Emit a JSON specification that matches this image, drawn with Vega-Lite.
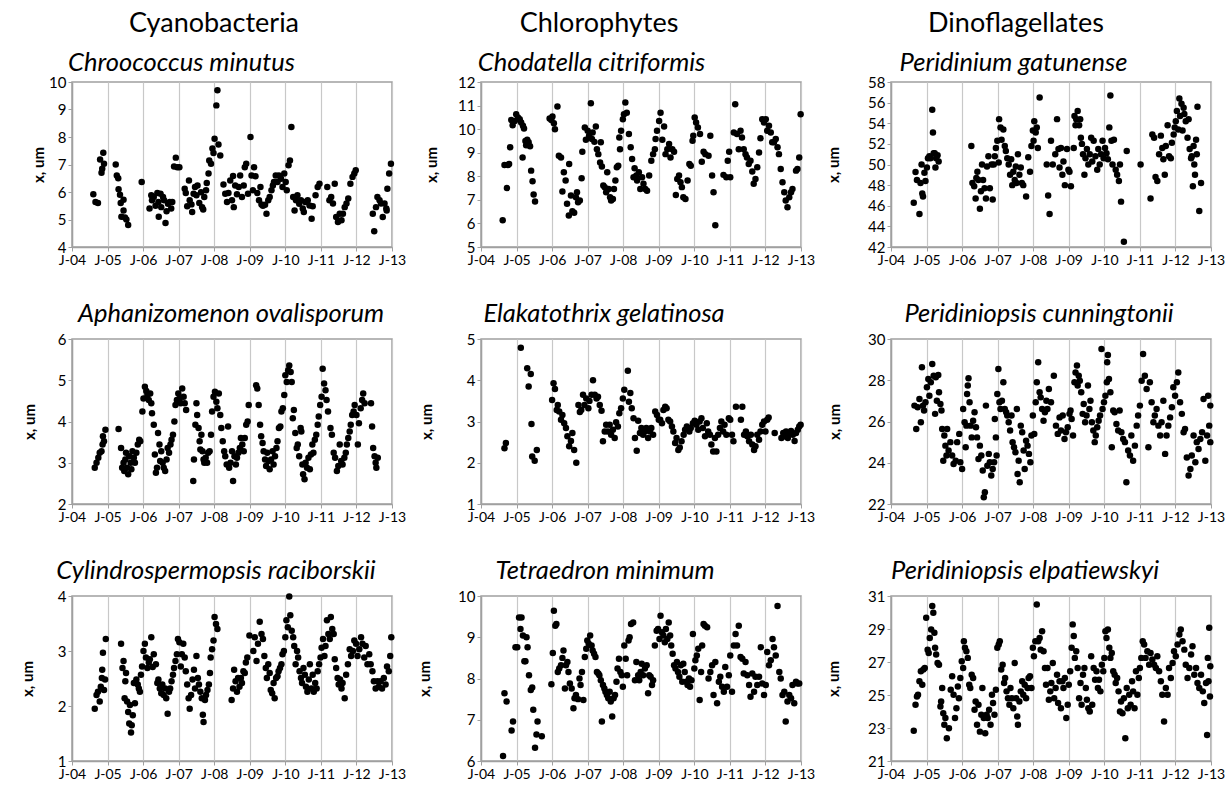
{
  "$schema": "https://vega.github.io/schema/vega-lite/v6.json",
  "background": "white",
  "padding": {"left": 19, "top": 9, "right": 0, "bottom": 0},
  "datasets": {
    "cm": [{"t":2004.60,"v":5.92},{"t":2004.66,"v":5.64},{"t":2004.73,"v":5.6},{"t":2004.79,"v":7.18},{"t":2004.83,"v":6.7},{"t":2004.85,"v":6.85},{"t":2004.90,"v":7.03},{"t":2004.88,"v":7.43},{"t":2005.23,"v":7.0},{"t":2005.26,"v":6.6},{"t":2005.30,"v":6.5},{"t":2005.31,"v":6.1},{"t":2005.35,"v":5.9},{"t":2005.37,"v":5.6},{"t":2005.45,"v":5.72},{"t":2005.45,"v":5.33},{"t":2005.39,"v":5.1},{"t":2005.49,"v":5.07},{"t":2005.53,"v":5.0},{"t":2005.58,"v":4.8},{"t":2005.96,"v":6.36},{"t":2006.18,"v":5.4},{"t":2006.23,"v":5.88},{"t":2006.25,"v":5.7},{"t":2006.30,"v":5.82},{"t":2006.35,"v":5.5},{"t":2006.40,"v":5.96},{"t":2006.43,"v":5.64},{"t":2006.44,"v":5.1},{"t":2006.49,"v":5.94},{"t":2006.51,"v":5.45},{"t":2006.56,"v":5.82},{"t":2006.59,"v":5.7},{"t":2006.63,"v":4.87},{"t":2006.66,"v":5.3},{"t":2006.70,"v":5.57},{"t":2006.75,"v":5.64},{"t":2006.79,"v":5.4},{"t":2006.82,"v":5.64},{"t":2006.87,"v":6.93},{"t":2006.92,"v":7.25},{"t":2006.96,"v":6.9},{"t":2007.02,"v":6.9},{"t":2007.17,"v":6.12},{"t":2007.20,"v":5.96},{"t":2007.24,"v":5.48},{"t":2007.29,"v":6.42},{"t":2007.31,"v":5.7},{"t":2007.36,"v":5.55},{"t":2007.38,"v":5.27},{"t":2007.42,"v":5.94},{"t":2007.46,"v":6.18},{"t":2007.50,"v":5.88},{"t":2007.53,"v":6.24},{"t":2007.58,"v":5.6},{"t":2007.63,"v":5.99},{"t":2007.66,"v":5.45},{"t":2007.69,"v":5.36},{"t":2007.72,"v":5.82},{"t":2007.77,"v":6.06},{"t":2007.79,"v":6.33},{"t":2007.84,"v":6.67},{"t":2007.86,"v":7.15},{"t":2007.91,"v":7.03},{"t":2007.95,"v":7.58},{"t":2007.98,"v":7.42},{"t":2008.01,"v":7.94},{"t":2008.06,"v":9.15},{"t":2008.09,"v":9.7},{"t":2008.12,"v":7.73},{"t":2008.17,"v":7.33},{"t":2008.26,"v":6.27},{"t":2008.31,"v":5.94},{"t":2008.36,"v":5.64},{"t":2008.40,"v":5.96},{"t":2008.45,"v":6.42},{"t":2008.50,"v":5.7},{"t":2008.53,"v":6.58},{"t":2008.55,"v":5.45},{"t":2008.59,"v":6.24},{"t":2008.64,"v":5.92},{"t":2008.69,"v":6.18},{"t":2008.73,"v":6.6},{"t":2008.78,"v":5.82},{"t":2008.83,"v":6.24},{"t":2008.86,"v":6.9},{"t":2008.90,"v":7.03},{"t":2008.95,"v":5.94},{"t":2009.02,"v":8.0},{"t":2009.05,"v":6.6},{"t":2009.09,"v":6.06},{"t":2009.12,"v":6.9},{"t":2009.16,"v":6.57},{"t":2009.21,"v":5.96},{"t":2009.26,"v":5.7},{"t":2009.30,"v":6.18},{"t":2009.33,"v":5.55},{"t":2009.37,"v":5.5},{"t":2009.43,"v":5.54},{"t":2009.47,"v":5.21},{"t":2009.52,"v":5.7},{"t":2009.56,"v":5.82},{"t":2009.61,"v":6.06},{"t":2009.65,"v":6.24},{"t":2009.68,"v":6.36},{"t":2009.73,"v":6.6},{"t":2009.78,"v":6.36},{"t":2009.82,"v":6.6},{"t":2009.88,"v":6.48},{"t":2009.92,"v":6.18},{"t":2009.97,"v":6.67},{"t":2010.01,"v":6.36},{"t":2010.04,"v":6.06},{"t":2010.09,"v":6.97},{"t":2010.13,"v":7.15},{"t":2010.17,"v":8.36},{"t":2010.22,"v":5.82},{"t":2010.26,"v":5.33},{"t":2010.30,"v":5.7},{"t":2010.34,"v":5.88},{"t":2010.39,"v":5.57},{"t":2010.44,"v":5.7},{"t":2010.49,"v":5.4},{"t":2010.52,"v":5.27},{"t":2010.56,"v":5.64},{"t":2010.63,"v":5.7},{"t":2010.68,"v":5.51},{"t":2010.74,"v":5.03},{"t":2010.77,"v":5.48},{"t":2010.85,"v":5.88},{"t":2010.91,"v":6.18},{"t":2010.96,"v":6.3},{"t":2011.18,"v":6.18},{"t":2011.24,"v":5.7},{"t":2011.29,"v":5.82},{"t":2011.34,"v":5.58},{"t":2011.39,"v":6.3},{"t":2011.43,"v":5.09},{"t":2011.48,"v":4.91},{"t":2011.53,"v":5.21},{"t":2011.58,"v":4.97},{"t":2011.62,"v":5.21},{"t":2011.67,"v":5.45},{"t":2011.72,"v":5.58},{"t":2011.77,"v":5.76},{"t":2011.83,"v":6.3},{"t":2011.89,"v":6.55},{"t":2011.94,"v":6.67},{"t":2011.98,"v":6.79},{"t":2012.46,"v":5.21},{"t":2012.50,"v":4.57},{"t":2012.55,"v":5.45},{"t":2012.59,"v":5.82},{"t":2012.65,"v":5.7},{"t":2012.69,"v":5.58},{"t":2012.74,"v":5.09},{"t":2012.79,"v":5.58},{"t":2012.84,"v":5.4},{"t":2012.85,"v":5.33},{"t":2012.87,"v":6.12},{"t":2012.92,"v":6.67},{"t":2012.97,"v":7.03}],
    "cc": [{"t":2004.61,"v":6.13},{"t":2004.66,"v":8.48},{"t":2004.73,"v":7.5},{"t":2004.76,"v":8.48},{"t":2004.79,"v":8.52},{"t":2004.82,"v":9.23},{"t":2004.85,"v":10.39},{"t":2004.89,"v":10.17},{"t":2004.95,"v":10.35},{"t":2004.99,"v":10.63},{"t":2005.04,"v":10.49},{"t":2005.09,"v":10.42},{"t":2005.13,"v":10.28},{"t":2005.17,"v":8.8},{"t":2005.18,"v":10.14},{"t":2005.21,"v":10.03},{"t":2005.25,"v":9.5},{"t":2005.27,"v":9.32},{"t":2005.30,"v":9.55},{"t":2005.34,"v":9.44},{"t":2005.38,"v":9.27},{"t":2005.41,"v":8.24},{"t":2005.45,"v":7.79},{"t":2005.48,"v":7.23},{"t":2005.52,"v":6.93},{"t":2005.93,"v":10.45},{"t":2005.98,"v":10.39},{"t":2006.01,"v":10.54},{"t":2006.05,"v":10.25},{"t":2006.08,"v":10.0},{"t":2006.15,"v":10.96},{"t":2006.19,"v":8.87},{"t":2006.25,"v":8.8},{"t":2006.29,"v":7.35},{"t":2006.33,"v":8.17},{"t":2006.38,"v":7.82},{"t":2006.42,"v":6.83},{"t":2006.47,"v":6.34},{"t":2006.48,"v":8.52},{"t":2006.53,"v":7.18},{"t":2006.57,"v":6.52},{"t":2006.62,"v":6.45},{"t":2006.67,"v":7.11},{"t":2006.70,"v":7.32},{"t":2006.73,"v":6.9},{"t":2006.78,"v":6.97},{"t":2006.83,"v":7.92},{"t":2006.85,"v":9.04},{"t":2006.92,"v":10.07},{"t":2006.95,"v":9.55},{"t":2007.00,"v":9.93},{"t":2007.04,"v":9.72},{"t":2007.09,"v":11.1},{"t":2007.12,"v":9.58},{"t":2007.14,"v":9.86},{"t":2007.19,"v":9.46},{"t":2007.23,"v":10.11},{"t":2007.26,"v":9.15},{"t":2007.30,"v":8.94},{"t":2007.35,"v":8.59},{"t":2007.37,"v":9.44},{"t":2007.40,"v":8.42},{"t":2007.44,"v":7.61},{"t":2007.48,"v":7.54},{"t":2007.52,"v":7.32},{"t":2007.55,"v":8.17},{"t":2007.59,"v":7.46},{"t":2007.63,"v":7.11},{"t":2007.66,"v":6.97},{"t":2007.71,"v":7.04},{"t":2007.74,"v":7.46},{"t":2007.78,"v":7.82},{"t":2007.82,"v":8.38},{"t":2007.86,"v":8.45},{"t":2007.89,"v":9.65},{"t":2007.91,"v":9.15},{"t":2007.94,"v":9.93},{"t":2007.99,"v":10.42},{"t":2008.02,"v":10.63},{"t":2008.06,"v":11.13},{"t":2008.10,"v":10.7},{"t":2008.16,"v":9.79},{"t":2008.21,"v":9.23},{"t":2008.25,"v":8.73},{"t":2008.29,"v":7.96},{"t":2008.32,"v":8.34},{"t":2008.37,"v":8.03},{"t":2008.39,"v":7.82},{"t":2008.44,"v":8.17},{"t":2008.48,"v":7.46},{"t":2008.53,"v":7.96},{"t":2008.57,"v":7.68},{"t":2008.62,"v":7.46},{"t":2008.67,"v":7.39},{"t":2008.73,"v":8.03},{"t":2008.79,"v":8.66},{"t":2008.84,"v":8.94},{"t":2008.89,"v":9.15},{"t":2008.91,"v":9.58},{"t":2008.95,"v":9.93},{"t":2009.01,"v":10.35},{"t":2009.05,"v":10.7},{"t":2009.10,"v":9.55},{"t":2009.15,"v":10.11},{"t":2009.19,"v":8.94},{"t":2009.24,"v":9.15},{"t":2009.29,"v":9.37},{"t":2009.33,"v":8.8},{"t":2009.38,"v":9.15},{"t":2009.43,"v":9.04},{"t":2009.48,"v":7.21},{"t":2009.52,"v":7.89},{"t":2009.57,"v":8.03},{"t":2009.61,"v":7.75},{"t":2009.65,"v":7.54},{"t":2009.69,"v":7.11},{"t":2009.75,"v":7.04},{"t":2009.81,"v":7.82},{"t":2009.86,"v":8.52},{"t":2009.90,"v":8.45},{"t":2009.95,"v":9.51},{"t":2009.97,"v":9.72},{"t":2010.01,"v":10.49},{"t":2010.05,"v":10.28},{"t":2010.10,"v":10.07},{"t":2010.16,"v":9.79},{"t":2010.21,"v":8.62},{"t":2010.26,"v":9.04},{"t":2010.31,"v":8.94},{"t":2010.40,"v":8.87},{"t":2010.45,"v":9.72},{"t":2010.50,"v":8.03},{"t":2010.54,"v":7.32},{"t":2010.59,"v":5.92},{"t":2010.82,"v":8.06},{"t":2010.90,"v":7.96},{"t":2010.94,"v":8.66},{"t":2010.98,"v":9.04},{"t":2011.01,"v":7.96},{"t":2011.11,"v":9.86},{"t":2011.15,"v":11.06},{"t":2011.20,"v":9.79},{"t":2011.25,"v":9.15},{"t":2011.30,"v":9.93},{"t":2011.34,"v":9.65},{"t":2011.39,"v":9.15},{"t":2011.44,"v":8.94},{"t":2011.48,"v":8.8},{"t":2011.53,"v":8.52},{"t":2011.58,"v":8.66},{"t":2011.63,"v":8.2},{"t":2011.67,"v":7.68},{"t":2011.72,"v":7.89},{"t":2011.77,"v":8.38},{"t":2011.82,"v":9.01},{"t":2011.86,"v":9.61},{"t":2011.91,"v":10.42},{"t":2011.96,"v":10.28},{"t":2012.01,"v":10.42},{"t":2012.05,"v":9.93},{"t":2012.10,"v":10.14},{"t":2012.15,"v":9.86},{"t":2012.19,"v":9.44},{"t":2012.24,"v":9.44},{"t":2012.29,"v":9.58},{"t":2012.34,"v":9.23},{"t":2012.38,"v":8.94},{"t":2012.43,"v":8.31},{"t":2012.48,"v":7.75},{"t":2012.53,"v":7.32},{"t":2012.57,"v":6.97},{"t":2012.62,"v":6.69},{"t":2012.67,"v":7.11},{"t":2012.72,"v":7.32},{"t":2012.76,"v":7.46},{"t":2012.86,"v":8.24},{"t":2012.90,"v":8.31},{"t":2012.95,"v":8.8},{"t":2012.99,"v":10.63}],
    "pg": [{"t":2004.64,"v":46.3},{"t":2004.69,"v":49.27},{"t":2004.73,"v":48.5},{"t":2004.80,"v":45.2},{"t":2004.83,"v":48.2},{"t":2004.86,"v":50.0},{"t":2004.88,"v":47.2},{"t":2004.90,"v":46.9},{"t":2004.94,"v":49.2},{"t":2004.97,"v":48.4},{"t":2005.01,"v":49.7},{"t":2005.04,"v":50.6},{"t":2005.08,"v":50.8},{"t":2005.11,"v":50.6},{"t":2005.16,"v":55.3},{"t":2005.18,"v":53.1},{"t":2005.20,"v":51.1},{"t":2005.23,"v":51.1},{"t":2005.25,"v":49.7},{"t":2005.27,"v":50.6},{"t":2005.31,"v":50.9},{"t":2005.34,"v":50.3},{"t":2006.26,"v":51.8},{"t":2006.29,"v":48.2},{"t":2006.34,"v":47.9},{"t":2006.38,"v":46.7},{"t":2006.40,"v":48.7},{"t":2006.43,"v":49.3},{"t":2006.46,"v":48.5},{"t":2006.50,"v":45.7},{"t":2006.53,"v":47.4},{"t":2006.56,"v":50.0},{"t":2006.59,"v":48.5},{"t":2006.63,"v":47.7},{"t":2006.67,"v":46.7},{"t":2006.70,"v":49.8},{"t":2006.74,"v":50.8},{"t":2006.78,"v":47.7},{"t":2006.83,"v":50.0},{"t":2006.86,"v":46.6},{"t":2006.89,"v":50.0},{"t":2006.92,"v":50.8},{"t":2006.95,"v":51.6},{"t":2006.99,"v":52.3},{"t":2007.03,"v":50.2},{"t":2007.04,"v":54.4},{"t":2007.08,"v":53.6},{"t":2007.11,"v":52.4},{"t":2007.16,"v":53.4},{"t":2007.20,"v":51.8},{"t":2007.23,"v":51.3},{"t":2007.27,"v":50.6},{"t":2007.31,"v":50.0},{"t":2007.35,"v":49.0},{"t":2007.38,"v":50.5},{"t":2007.41,"v":48.0},{"t":2007.44,"v":49.3},{"t":2007.48,"v":48.5},{"t":2007.51,"v":49.8},{"t":2007.53,"v":48.2},{"t":2007.57,"v":51.0},{"t":2007.61,"v":49.0},{"t":2007.65,"v":49.7},{"t":2007.68,"v":48.2},{"t":2007.72,"v":48.0},{"t":2007.80,"v":46.9},{"t":2007.86,"v":50.7},{"t":2007.91,"v":49.3},{"t":2007.95,"v":51.8},{"t":2007.99,"v":53.3},{"t":2008.01,"v":52.3},{"t":2008.03,"v":54.2},{"t":2008.07,"v":53.1},{"t":2008.10,"v":53.6},{"t":2008.13,"v":51.6},{"t":2008.18,"v":56.5},{"t":2008.38,"v":50.0},{"t":2008.42,"v":47.0},{"t":2008.46,"v":45.2},{"t":2008.50,"v":52.3},{"t":2008.55,"v":50.0},{"t":2008.62,"v":51.0},{"t":2008.67,"v":54.4},{"t":2008.71,"v":51.5},{"t":2008.74,"v":49.7},{"t":2008.78,"v":51.6},{"t":2008.82,"v":49.0},{"t":2008.85,"v":50.3},{"t":2008.89,"v":48.0},{"t":2008.95,"v":51.5},{"t":2008.99,"v":49.5},{"t":2009.02,"v":49.3},{"t":2009.06,"v":47.9},{"t":2009.14,"v":51.6},{"t":2009.16,"v":54.7},{"t":2009.19,"v":53.8},{"t":2009.21,"v":54.4},{"t":2009.25,"v":55.2},{"t":2009.29,"v":53.8},{"t":2009.32,"v":54.4},{"t":2009.34,"v":52.6},{"t":2009.37,"v":52.0},{"t":2009.40,"v":51.0},{"t":2009.44,"v":49.0},{"t":2009.47,"v":50.6},{"t":2009.51,"v":51.5},{"t":2009.55,"v":50.0},{"t":2009.59,"v":51.0},{"t":2009.63,"v":52.6},{"t":2009.66,"v":50.3},{"t":2009.70,"v":52.3},{"t":2009.75,"v":50.8},{"t":2009.80,"v":49.5},{"t":2009.83,"v":51.5},{"t":2009.87,"v":50.0},{"t":2009.91,"v":51.0},{"t":2009.95,"v":52.3},{"t":2009.98,"v":50.6},{"t":2010.02,"v":51.6},{"t":2010.06,"v":51.1},{"t":2010.10,"v":50.5},{"t":2010.14,"v":53.6},{"t":2010.17,"v":56.7},{"t":2010.20,"v":52.3},{"t":2010.23,"v":50.0},{"t":2010.27,"v":52.4},{"t":2010.32,"v":49.5},{"t":2010.36,"v":49.0},{"t":2010.41,"v":48.4},{"t":2010.44,"v":50.0},{"t":2010.47,"v":46.4},{"t":2010.55,"v":42.5},{"t":2010.63,"v":51.3},{"t":2011.02,"v":50.0},{"t":2011.30,"v":46.7},{"t":2011.35,"v":52.9},{"t":2011.40,"v":52.6},{"t":2011.44,"v":48.8},{"t":2011.49,"v":48.4},{"t":2011.54,"v":51.0},{"t":2011.59,"v":52.8},{"t":2011.63,"v":51.6},{"t":2011.66,"v":50.5},{"t":2011.70,"v":49.0},{"t":2011.73,"v":51.8},{"t":2011.78,"v":53.8},{"t":2011.82,"v":50.8},{"t":2011.87,"v":50.6},{"t":2011.90,"v":52.1},{"t":2011.95,"v":52.9},{"t":2011.98,"v":53.6},{"t":2012.01,"v":54.2},{"t":2012.04,"v":55.2},{"t":2012.08,"v":53.4},{"t":2012.11,"v":56.4},{"t":2012.13,"v":54.7},{"t":2012.17,"v":55.9},{"t":2012.20,"v":53.3},{"t":2012.23,"v":55.5},{"t":2012.25,"v":54.9},{"t":2012.29,"v":54.2},{"t":2012.34,"v":52.6},{"t":2012.37,"v":54.4},{"t":2012.40,"v":51.5},{"t":2012.44,"v":50.6},{"t":2012.46,"v":50.8},{"t":2012.49,"v":47.9},{"t":2012.51,"v":51.8},{"t":2012.53,"v":50.0},{"t":2012.55,"v":49.0},{"t":2012.58,"v":52.4},{"t":2012.60,"v":51.0},{"t":2012.62,"v":55.6},{"t":2012.67,"v":45.5},{"t":2012.72,"v":48.2}],
    "ao": [{"t":2004.64,"v":2.88},{"t":2004.69,"v":3.0},{"t":2004.74,"v":3.12},{"t":2004.78,"v":3.24},{"t":2004.83,"v":3.28},{"t":2004.86,"v":3.44},{"t":2004.87,"v":3.64},{"t":2004.90,"v":3.52},{"t":2004.94,"v":3.8},{"t":2005.31,"v":3.82},{"t":2005.38,"v":3.36},{"t":2005.41,"v":2.88},{"t":2005.45,"v":3.0},{"t":2005.47,"v":2.8},{"t":2005.50,"v":3.08},{"t":2005.52,"v":3.24},{"t":2005.55,"v":2.88},{"t":2005.58,"v":2.72},{"t":2005.61,"v":3.16},{"t":2005.65,"v":3.0},{"t":2005.67,"v":2.84},{"t":2005.70,"v":3.28},{"t":2005.74,"v":3.12},{"t":2005.77,"v":3.0},{"t":2005.81,"v":3.24},{"t":2005.85,"v":3.44},{"t":2005.89,"v":3.56},{"t":2005.92,"v":3.52},{"t":2005.98,"v":4.24},{"t":2006.01,"v":4.56},{"t":2006.05,"v":4.84},{"t":2006.09,"v":4.74},{"t":2006.12,"v":4.64},{"t":2006.16,"v":4.52},{"t":2006.20,"v":4.68},{"t":2006.23,"v":4.44},{"t":2006.25,"v":4.2},{"t":2006.30,"v":3.92},{"t":2006.33,"v":3.2},{"t":2006.36,"v":2.76},{"t":2006.39,"v":2.88},{"t":2006.42,"v":3.72},{"t":2006.46,"v":3.44},{"t":2006.48,"v":3.04},{"t":2006.51,"v":3.28},{"t":2006.55,"v":3.0},{"t":2006.58,"v":2.88},{"t":2006.62,"v":2.8},{"t":2006.66,"v":3.08},{"t":2006.69,"v":3.36},{"t":2006.73,"v":3.24},{"t":2006.77,"v":3.44},{"t":2006.80,"v":3.56},{"t":2006.84,"v":3.68},{"t":2006.88,"v":4.0},{"t":2006.91,"v":4.4},{"t":2006.95,"v":4.52},{"t":2006.99,"v":4.68},{"t":2007.03,"v":4.56},{"t":2007.06,"v":4.44},{"t":2007.10,"v":4.8},{"t":2007.14,"v":4.6},{"t":2007.17,"v":4.44},{"t":2007.21,"v":4.28},{"t":2007.41,"v":2.56},{"t":2007.43,"v":3.08},{"t":2007.47,"v":3.92},{"t":2007.50,"v":4.44},{"t":2007.52,"v":4.16},{"t":2007.56,"v":3.84},{"t":2007.59,"v":3.52},{"t":2007.61,"v":3.32},{"t":2007.64,"v":3.68},{"t":2007.67,"v":3.28},{"t":2007.70,"v":3.08},{"t":2007.72,"v":3.0},{"t":2007.76,"v":3.12},{"t":2007.80,"v":3.0},{"t":2007.83,"v":3.24},{"t":2007.87,"v":3.28},{"t":2007.91,"v":3.68},{"t":2007.94,"v":4.24},{"t":2007.98,"v":4.6},{"t":2008.02,"v":4.72},{"t":2008.06,"v":4.48},{"t":2008.09,"v":4.32},{"t":2008.13,"v":4.68},{"t":2008.17,"v":4.16},{"t":2008.20,"v":3.84},{"t":2008.24,"v":3.52},{"t":2008.28,"v":3.28},{"t":2008.31,"v":3.16},{"t":2008.35,"v":2.96},{"t":2008.39,"v":3.88},{"t":2008.42,"v":2.88},{"t":2008.46,"v":3.0},{"t":2008.50,"v":3.28},{"t":2008.53,"v":2.56},{"t":2008.57,"v":3.16},{"t":2008.61,"v":2.96},{"t":2008.64,"v":3.12},{"t":2008.68,"v":3.24},{"t":2008.72,"v":3.36},{"t":2008.75,"v":3.6},{"t":2008.79,"v":3.44},{"t":2008.83,"v":3.28},{"t":2008.86,"v":3.6},{"t":2008.90,"v":3.92},{"t":2008.94,"v":4.0},{"t":2008.97,"v":4.4},{"t":2009.18,"v":4.88},{"t":2009.21,"v":4.8},{"t":2009.25,"v":4.4},{"t":2009.29,"v":3.92},{"t":2009.32,"v":3.64},{"t":2009.36,"v":3.48},{"t":2009.39,"v":3.28},{"t":2009.43,"v":3.08},{"t":2009.46,"v":2.92},{"t":2009.49,"v":3.24},{"t":2009.53,"v":3.04},{"t":2009.56,"v":2.84},{"t":2009.60,"v":3.08},{"t":2009.64,"v":3.28},{"t":2009.67,"v":2.96},{"t":2009.71,"v":3.16},{"t":2009.75,"v":3.36},{"t":2009.78,"v":3.52},{"t":2009.82,"v":3.84},{"t":2009.86,"v":3.88},{"t":2009.89,"v":4.24},{"t":2009.93,"v":4.32},{"t":2009.97,"v":4.64},{"t":2010.00,"v":5.12},{"t":2010.04,"v":4.96},{"t":2010.08,"v":5.24},{"t":2010.11,"v":5.36},{"t":2010.15,"v":5.2},{"t":2010.18,"v":4.96},{"t":2010.21,"v":4.08},{"t":2010.24,"v":4.28},{"t":2010.28,"v":3.72},{"t":2010.32,"v":3.36},{"t":2010.35,"v":3.44},{"t":2010.39,"v":3.16},{"t":2010.43,"v":3.84},{"t":2010.45,"v":3.76},{"t":2010.48,"v":2.96},{"t":2010.50,"v":2.72},{"t":2010.54,"v":2.6},{"t":2010.57,"v":3.0},{"t":2010.61,"v":2.88},{"t":2010.65,"v":3.12},{"t":2010.69,"v":2.84},{"t":2010.72,"v":3.2},{"t":2010.76,"v":3.44},{"t":2010.79,"v":3.24},{"t":2010.83,"v":3.56},{"t":2010.87,"v":3.68},{"t":2010.91,"v":3.92},{"t":2010.94,"v":4.12},{"t":2010.98,"v":4.4},{"t":2011.02,"v":4.6},{"t":2011.05,"v":5.28},{"t":2011.09,"v":4.92},{"t":2011.13,"v":4.76},{"t":2011.16,"v":4.52},{"t":2011.20,"v":4.24},{"t":2011.27,"v":3.84},{"t":2011.31,"v":3.68},{"t":2011.36,"v":3.24},{"t":2011.40,"v":3.12},{"t":2011.45,"v":2.8},{"t":2011.49,"v":2.92},{"t":2011.53,"v":3.44},{"t":2011.57,"v":3.04},{"t":2011.61,"v":2.96},{"t":2011.66,"v":3.12},{"t":2011.70,"v":3.24},{"t":2011.73,"v":3.44},{"t":2011.77,"v":3.6},{"t":2011.81,"v":3.76},{"t":2011.84,"v":3.92},{"t":2011.88,"v":4.16},{"t":2011.92,"v":4.24},{"t":2011.95,"v":4.4},{"t":2012.00,"v":4.16},{"t":2012.04,"v":3.44},{"t":2012.07,"v":3.96},{"t":2012.12,"v":4.32},{"t":2012.16,"v":4.52},{"t":2012.19,"v":4.68},{"t":2012.23,"v":4.44},{"t":2012.41,"v":4.44},{"t":2012.44,"v":3.88},{"t":2012.47,"v":3.36},{"t":2012.51,"v":3.16},{"t":2012.54,"v":3.0},{"t":2012.56,"v":2.88},{"t":2012.60,"v":3.12}],
    "eg": [{"t":2004.66,"v":2.35},{"t":2004.70,"v":2.48},{"t":2005.12,"v":4.79},{"t":2005.30,"v":4.29},{"t":2005.34,"v":3.85},{"t":2005.40,"v":4.15},{"t":2005.42,"v":2.94},{"t":2005.44,"v":2.15},{"t":2005.51,"v":2.05},{"t":2005.57,"v":2.31},{"t":2006.00,"v":3.52},{"t":2006.04,"v":3.93},{"t":2006.08,"v":3.79},{"t":2006.13,"v":3.28},{"t":2006.16,"v":3.4},{"t":2006.20,"v":3.24},{"t":2006.25,"v":3.04},{"t":2006.29,"v":3.16},{"t":2006.34,"v":2.96},{"t":2006.39,"v":2.84},{"t":2006.43,"v":2.64},{"t":2006.48,"v":2.4},{"t":2006.53,"v":2.53},{"t":2006.57,"v":2.72},{"t":2006.62,"v":2.31},{"t":2006.68,"v":2.0},{"t":2006.74,"v":3.4},{"t":2006.78,"v":3.23},{"t":2006.82,"v":3.28},{"t":2006.87,"v":3.65},{"t":2006.91,"v":3.4},{"t":2006.96,"v":3.56},{"t":2007.02,"v":3.32},{"t":2007.05,"v":3.5},{"t":2007.11,"v":3.65},{"t":2007.15,"v":4.0},{"t":2007.20,"v":3.65},{"t":2007.25,"v":3.56},{"t":2007.29,"v":3.6},{"t":2007.34,"v":3.4},{"t":2007.39,"v":3.26},{"t":2007.43,"v":2.52},{"t":2007.48,"v":2.76},{"t":2007.52,"v":2.92},{"t":2007.57,"v":2.76},{"t":2007.62,"v":2.92},{"t":2007.66,"v":2.68},{"t":2007.71,"v":2.8},{"t":2007.76,"v":2.6},{"t":2007.80,"v":2.98},{"t":2007.85,"v":2.88},{"t":2007.89,"v":3.2},{"t":2007.94,"v":3.32},{"t":2007.99,"v":3.56},{"t":2008.03,"v":3.77},{"t":2008.13,"v":4.23},{"t":2008.16,"v":3.48},{"t":2008.20,"v":3.69},{"t":2008.24,"v":3.32},{"t":2008.29,"v":3.08},{"t":2008.33,"v":2.6},{"t":2008.38,"v":2.29},{"t":2008.42,"v":3.02},{"t":2008.47,"v":2.72},{"t":2008.51,"v":2.84},{"t":2008.56,"v":2.68},{"t":2008.61,"v":2.76},{"t":2008.65,"v":2.84},{"t":2008.70,"v":2.6},{"t":2008.75,"v":2.76},{"t":2008.79,"v":2.84},{"t":2008.84,"v":2.68},{"t":2008.90,"v":3.24},{"t":2008.95,"v":3.16},{"t":2009.00,"v":3.04},{"t":2009.04,"v":3.04},{"t":2009.09,"v":2.96},{"t":2009.13,"v":3.28},{"t":2009.18,"v":3.36},{"t":2009.22,"v":3.32},{"t":2009.27,"v":3.04},{"t":2009.32,"v":3.0},{"t":2009.37,"v":2.88},{"t":2009.41,"v":2.76},{"t":2009.46,"v":2.48},{"t":2009.50,"v":2.6},{"t":2009.55,"v":2.31},{"t":2009.59,"v":2.37},{"t":2009.64,"v":2.52},{"t":2009.70,"v":2.68},{"t":2009.74,"v":2.8},{"t":2009.79,"v":2.88},{"t":2009.86,"v":2.76},{"t":2009.90,"v":2.84},{"t":2009.96,"v":2.96},{"t":2010.01,"v":3.02},{"t":2010.06,"v":2.92},{"t":2010.11,"v":2.8},{"t":2010.15,"v":3.0},{"t":2010.20,"v":3.08},{"t":2010.24,"v":2.84},{"t":2010.30,"v":2.64},{"t":2010.35,"v":2.96},{"t":2010.39,"v":2.76},{"t":2010.44,"v":2.68},{"t":2010.48,"v":2.44},{"t":2010.53,"v":2.27},{"t":2010.58,"v":2.6},{"t":2010.62,"v":2.27},{"t":2010.67,"v":2.68},{"t":2010.72,"v":2.84},{"t":2010.76,"v":3.0},{"t":2010.81,"v":2.76},{"t":2010.85,"v":2.92},{"t":2010.90,"v":2.68},{"t":2010.97,"v":3.08},{"t":2011.01,"v":3.04},{"t":2011.06,"v":2.68},{"t":2011.10,"v":2.52},{"t":2011.17,"v":3.36},{"t":2011.31,"v":3.04},{"t":2011.35,"v":3.36},{"t":2011.40,"v":2.68},{"t":2011.45,"v":2.76},{"t":2011.49,"v":2.64},{"t":2011.54,"v":2.52},{"t":2011.59,"v":2.68},{"t":2011.63,"v":2.44},{"t":2011.68,"v":2.31},{"t":2011.72,"v":2.4},{"t":2011.77,"v":2.68},{"t":2011.82,"v":2.56},{"t":2011.86,"v":2.76},{"t":2011.91,"v":2.92},{"t":2011.96,"v":3.0},{"t":2012.00,"v":2.76},{"t":2012.05,"v":3.04},{"t":2012.09,"v":3.1},{"t":2012.26,"v":2.72},{"t":2012.45,"v":2.6},{"t":2012.50,"v":2.72},{"t":2012.54,"v":2.64},{"t":2012.58,"v":2.76},{"t":2012.63,"v":2.6},{"t":2012.68,"v":2.72},{"t":2012.72,"v":2.77},{"t":2012.77,"v":2.68},{"t":2012.82,"v":2.53},{"t":2012.86,"v":2.72},{"t":2012.91,"v":2.8},{"t":2012.95,"v":2.88},{"t":2012.99,"v":2.92}],
    "pc": [{"t":2004.66,"v":26.77},{"t":2004.71,"v":25.64},{"t":2004.75,"v":26.69},{"t":2004.80,"v":27.09},{"t":2004.84,"v":25.96},{"t":2004.87,"v":28.63},{"t":2004.90,"v":26.77},{"t":2004.93,"v":26.53},{"t":2004.97,"v":26.93},{"t":2005.01,"v":27.66},{"t":2005.05,"v":28.06},{"t":2005.08,"v":27.25},{"t":2005.12,"v":27.9},{"t":2005.16,"v":28.79},{"t":2005.20,"v":28.22},{"t":2005.24,"v":26.37},{"t":2005.26,"v":28.14},{"t":2005.29,"v":27.01},{"t":2005.33,"v":28.26},{"t":2005.35,"v":27.42},{"t":2005.39,"v":26.85},{"t":2005.42,"v":26.53},{"t":2005.44,"v":25.64},{"t":2005.47,"v":24.1},{"t":2005.50,"v":25.32},{"t":2005.53,"v":24.83},{"t":2005.56,"v":24.35},{"t":2005.58,"v":25.64},{"t":2005.62,"v":24.59},{"t":2005.67,"v":25.0},{"t":2005.72,"v":24.35},{"t":2005.76,"v":23.94},{"t":2005.82,"v":24.1},{"t":2005.86,"v":25.0},{"t":2005.92,"v":25.4},{"t":2005.95,"v":24.02},{"t":2006.00,"v":23.7},{"t":2006.03,"v":26.61},{"t":2006.07,"v":25.96},{"t":2006.10,"v":24.75},{"t":2006.12,"v":25.8},{"t":2006.14,"v":27.33},{"t":2006.16,"v":27.74},{"t":2006.18,"v":28.1},{"t":2006.21,"v":26.93},{"t":2006.24,"v":25.8},{"t":2006.27,"v":25.23},{"t":2006.31,"v":26.04},{"t":2006.35,"v":26.45},{"t":2006.39,"v":25.72},{"t":2006.42,"v":25.23},{"t":2006.46,"v":24.18},{"t":2006.50,"v":24.83},{"t":2006.54,"v":24.35},{"t":2006.58,"v":23.62},{"t":2006.61,"v":22.33},{"t":2006.64,"v":22.57},{"t":2006.67,"v":26.77},{"t":2006.71,"v":23.86},{"t":2006.75,"v":24.43},{"t":2006.78,"v":24.02},{"t":2006.82,"v":23.38},{"t":2006.86,"v":23.7},{"t":2006.90,"v":24.02},{"t":2006.92,"v":26.12},{"t":2006.95,"v":25.23},{"t":2006.97,"v":24.35},{"t":2006.99,"v":27.33},{"t":2007.02,"v":28.55},{"t":2007.05,"v":26.93},{"t":2007.08,"v":26.61},{"t":2007.12,"v":27.01},{"t":2007.16,"v":27.9},{"t":2007.20,"v":26.61},{"t":2007.24,"v":26.45},{"t":2007.27,"v":26.29},{"t":2007.31,"v":25.96},{"t":2007.35,"v":25.56},{"t":2007.39,"v":26.29},{"t":2007.42,"v":25.0},{"t":2007.46,"v":24.75},{"t":2007.50,"v":24.51},{"t":2007.54,"v":26.61},{"t":2007.56,"v":23.46},{"t":2007.59,"v":24.1},{"t":2007.62,"v":23.05},{"t":2007.65,"v":25.8},{"t":2007.69,"v":25.48},{"t":2007.73,"v":24.59},{"t":2007.76,"v":23.7},{"t":2007.80,"v":25.07},{"t":2007.84,"v":24.83},{"t":2007.88,"v":24.43},{"t":2007.92,"v":24.02},{"t":2007.95,"v":25.32},{"t":2007.99,"v":26.29},{"t":2008.03,"v":25.4},{"t":2008.07,"v":26.93},{"t":2008.10,"v":27.9},{"t":2008.14,"v":28.87},{"t":2008.18,"v":27.42},{"t":2008.21,"v":27.17},{"t":2008.25,"v":26.61},{"t":2008.29,"v":26.04},{"t":2008.33,"v":26.45},{"t":2008.37,"v":27.01},{"t":2008.40,"v":26.61},{"t":2008.44,"v":27.58},{"t":2008.50,"v":26.93},{"t":2008.58,"v":28.22},{"t":2008.64,"v":25.8},{"t":2008.69,"v":25.4},{"t":2008.74,"v":26.2},{"t":2008.78,"v":25.56},{"t":2008.83,"v":26.29},{"t":2008.88,"v":25.15},{"t":2008.92,"v":25.48},{"t":2008.97,"v":25.72},{"t":2009.02,"v":26.37},{"t":2009.05,"v":26.53},{"t":2009.08,"v":26.12},{"t":2009.12,"v":25.32},{"t":2009.16,"v":27.9},{"t":2009.19,"v":28.38},{"t":2009.23,"v":28.71},{"t":2009.25,"v":27.74},{"t":2009.28,"v":28.22},{"t":2009.31,"v":27.98},{"t":2009.35,"v":27.42},{"t":2009.39,"v":26.37},{"t":2009.42,"v":26.85},{"t":2009.46,"v":25.96},{"t":2009.50,"v":26.29},{"t":2009.54,"v":27.74},{"t":2009.58,"v":26.61},{"t":2009.61,"v":27.01},{"t":2009.65,"v":25.96},{"t":2009.69,"v":25.56},{"t":2009.73,"v":25.0},{"t":2009.76,"v":25.32},{"t":2009.80,"v":25.72},{"t":2009.84,"v":26.04},{"t":2009.88,"v":26.29},{"t":2009.92,"v":29.52},{"t":2009.95,"v":26.61},{"t":2009.99,"v":26.93},{"t":2010.03,"v":27.25},{"t":2010.07,"v":27.9},{"t":2010.08,"v":28.87},{"t":2010.10,"v":29.22},{"t":2010.13,"v":28.06},{"t":2010.17,"v":27.42},{"t":2010.21,"v":24.75},{"t":2010.25,"v":26.53},{"t":2010.29,"v":26.45},{"t":2010.34,"v":25.88},{"t":2010.39,"v":25.56},{"t":2010.43,"v":26.53},{"t":2010.48,"v":25.48},{"t":2010.53,"v":25.15},{"t":2010.58,"v":25.0},{"t":2010.62,"v":23.05},{"t":2010.67,"v":24.59},{"t":2010.72,"v":24.35},{"t":2010.76,"v":25.32},{"t":2010.81,"v":24.1},{"t":2010.86,"v":24.83},{"t":2010.91,"v":25.8},{"t":2010.95,"v":26.29},{"t":2011.00,"v":26.77},{"t":2011.05,"v":27.98},{"t":2011.09,"v":29.27},{"t":2011.14,"v":28.22},{"t":2011.19,"v":27.58},{"t":2011.24,"v":24.75},{"t":2011.28,"v":27.9},{"t":2011.33,"v":26.93},{"t":2011.38,"v":25.96},{"t":2011.42,"v":26.29},{"t":2011.47,"v":26.61},{"t":2011.52,"v":25.8},{"t":2011.57,"v":25.32},{"t":2011.61,"v":25.96},{"t":2011.66,"v":27.01},{"t":2011.71,"v":24.43},{"t":2011.75,"v":25.32},{"t":2011.80,"v":25.8},{"t":2011.85,"v":26.2},{"t":2011.90,"v":26.69},{"t":2011.94,"v":27.66},{"t":2011.99,"v":27.25},{"t":2012.04,"v":27.9},{"t":2012.08,"v":28.38},{"t":2012.13,"v":26.93},{"t":2012.18,"v":26.37},{"t":2012.23,"v":25.48},{"t":2012.27,"v":25.64},{"t":2012.32,"v":24.26},{"t":2012.37,"v":23.38},{"t":2012.42,"v":23.7},{"t":2012.46,"v":24.35},{"t":2012.51,"v":25.32},{"t":2012.56,"v":24.02},{"t":2012.60,"v":25.0},{"t":2012.65,"v":24.67},{"t":2012.70,"v":25.15},{"t":2012.75,"v":25.48},{"t":2012.79,"v":27.09},{"t":2012.84,"v":24.1},{"t":2012.89,"v":25.32},{"t":2012.92,"v":27.25},{"t":2012.95,"v":25.8},{"t":2012.98,"v":26.77},{"t":2012.98,"v":25.0}],
    "cr": [{"t":2004.64,"v":1.95},{"t":2004.69,"v":2.2},{"t":2004.73,"v":2.26},{"t":2004.78,"v":2.08},{"t":2004.81,"v":2.35},{"t":2004.84,"v":2.51},{"t":2004.85,"v":2.66},{"t":2004.87,"v":2.97},{"t":2004.90,"v":2.29},{"t":2004.93,"v":2.48},{"t":2004.95,"v":3.22},{"t":2005.38,"v":3.13},{"t":2005.42,"v":2.69},{"t":2005.45,"v":2.82},{"t":2005.48,"v":2.14},{"t":2005.50,"v":2.45},{"t":2005.52,"v":2.6},{"t":2005.55,"v":2.08},{"t":2005.58,"v":1.89},{"t":2005.61,"v":1.68},{"t":2005.63,"v":2.02},{"t":2005.66,"v":1.52},{"t":2005.68,"v":1.65},{"t":2005.71,"v":1.83},{"t":2005.74,"v":2.42},{"t":2005.77,"v":2.05},{"t":2005.81,"v":2.48},{"t":2005.85,"v":2.39},{"t":2005.88,"v":2.32},{"t":2005.91,"v":2.26},{"t":2005.94,"v":2.57},{"t":2005.97,"v":2.72},{"t":2006.01,"v":3.0},{"t":2006.05,"v":3.13},{"t":2006.08,"v":2.88},{"t":2006.12,"v":2.69},{"t":2006.16,"v":2.79},{"t":2006.19,"v":2.85},{"t":2006.23,"v":3.25},{"t":2006.27,"v":2.71},{"t":2006.30,"v":2.94},{"t":2006.36,"v":2.76},{"t":2006.40,"v":2.42},{"t":2006.43,"v":2.48},{"t":2006.47,"v":2.32},{"t":2006.51,"v":2.23},{"t":2006.54,"v":2.39},{"t":2006.58,"v":2.2},{"t":2006.62,"v":2.32},{"t":2006.65,"v":2.14},{"t":2006.69,"v":1.86},{"t":2006.73,"v":2.26},{"t":2006.76,"v":2.32},{"t":2006.80,"v":2.45},{"t":2006.84,"v":2.57},{"t":2006.87,"v":2.69},{"t":2006.91,"v":2.82},{"t":2006.95,"v":2.94},{"t":2006.98,"v":3.22},{"t":2007.02,"v":3.16},{"t":2007.06,"v":2.72},{"t":2007.09,"v":2.94},{"t":2007.13,"v":3.13},{"t":2007.17,"v":2.88},{"t":2007.20,"v":2.63},{"t":2007.24,"v":2.39},{"t":2007.28,"v":2.14},{"t":2007.31,"v":1.95},{"t":2007.35,"v":2.2},{"t":2007.39,"v":2.48},{"t":2007.43,"v":2.66},{"t":2007.46,"v":2.32},{"t":2007.50,"v":2.91},{"t":2007.54,"v":2.51},{"t":2007.57,"v":2.39},{"t":2007.61,"v":2.26},{"t":2007.65,"v":2.14},{"t":2007.68,"v":1.84},{"t":2007.70,"v":1.71},{"t":2007.74,"v":2.11},{"t":2007.77,"v":2.2},{"t":2007.81,"v":2.29},{"t":2007.85,"v":2.39},{"t":2007.88,"v":2.6},{"t":2007.90,"v":2.88},{"t":2007.94,"v":3.03},{"t":2007.98,"v":3.19},{"t":2008.01,"v":3.62},{"t":2008.05,"v":3.49},{"t":2008.09,"v":3.4},{"t":2008.49,"v":2.11},{"t":2008.53,"v":2.32},{"t":2008.56,"v":2.66},{"t":2008.60,"v":2.45},{"t":2008.64,"v":2.26},{"t":2008.67,"v":2.51},{"t":2008.71,"v":2.35},{"t":2008.75,"v":2.51},{"t":2008.78,"v":2.42},{"t":2008.82,"v":2.63},{"t":2008.86,"v":2.6},{"t":2008.89,"v":2.79},{"t":2008.93,"v":2.88},{"t":2008.99,"v":3.28},{"t":2009.10,"v":3.0},{"t":2009.14,"v":3.25},{"t":2009.19,"v":2.82},{"t":2009.23,"v":3.13},{"t":2009.28,"v":3.53},{"t":2009.33,"v":3.31},{"t":2009.37,"v":3.22},{"t":2009.41,"v":2.91},{"t":2009.45,"v":2.69},{"t":2009.48,"v":2.51},{"t":2009.52,"v":2.76},{"t":2009.56,"v":2.6},{"t":2009.59,"v":2.29},{"t":2009.63,"v":2.23},{"t":2009.67,"v":2.42},{"t":2009.70,"v":2.14},{"t":2009.74,"v":2.51},{"t":2009.78,"v":2.54},{"t":2009.81,"v":2.63},{"t":2009.85,"v":2.69},{"t":2009.89,"v":2.76},{"t":2009.92,"v":2.94},{"t":2009.96,"v":3.0},{"t":2010.00,"v":3.25},{"t":2010.03,"v":3.56},{"t":2010.07,"v":3.43},{"t":2010.11,"v":3.99},{"t":2010.14,"v":3.65},{"t":2010.18,"v":3.37},{"t":2010.22,"v":3.25},{"t":2010.25,"v":3.09},{"t":2010.29,"v":2.76},{"t":2010.33,"v":3.0},{"t":2010.36,"v":2.88},{"t":2010.40,"v":2.63},{"t":2010.44,"v":2.51},{"t":2010.47,"v":2.42},{"t":2010.51,"v":2.69},{"t":2010.55,"v":2.57},{"t":2010.58,"v":2.35},{"t":2010.62,"v":2.26},{"t":2010.66,"v":2.48},{"t":2010.69,"v":2.76},{"t":2010.73,"v":2.32},{"t":2010.77,"v":2.57},{"t":2010.80,"v":2.26},{"t":2010.84,"v":2.42},{"t":2010.88,"v":2.32},{"t":2010.91,"v":2.63},{"t":2010.95,"v":2.76},{"t":2010.99,"v":2.88},{"t":2011.02,"v":3.06},{"t":2011.06,"v":3.22},{"t":2011.10,"v":2.91},{"t":2011.13,"v":3.09},{"t":2011.17,"v":3.56},{"t":2011.21,"v":3.31},{"t":2011.25,"v":3.22},{"t":2011.28,"v":3.62},{"t":2011.32,"v":3.4},{"t":2011.36,"v":3.31},{"t":2011.39,"v":2.85},{"t":2011.43,"v":2.69},{"t":2011.47,"v":2.51},{"t":2011.50,"v":2.39},{"t":2011.54,"v":2.48},{"t":2011.58,"v":2.32},{"t":2011.61,"v":2.42},{"t":2011.67,"v":2.14},{"t":2011.71,"v":2.57},{"t":2011.76,"v":2.76},{"t":2011.81,"v":3.03},{"t":2011.85,"v":2.91},{"t":2011.90,"v":3.0},{"t":2011.94,"v":3.19},{"t":2011.99,"v":3.13},{"t":2012.03,"v":2.91},{"t":2012.08,"v":3.03},{"t":2012.13,"v":3.25},{"t":2012.17,"v":3.13},{"t":2012.22,"v":2.88},{"t":2012.26,"v":3.09},{"t":2012.31,"v":2.76},{"t":2012.36,"v":2.94},{"t":2012.40,"v":2.76},{"t":2012.45,"v":2.63},{"t":2012.49,"v":2.45},{"t":2012.54,"v":2.32},{"t":2012.59,"v":2.45},{"t":2012.63,"v":2.35},{"t":2012.68,"v":2.45},{"t":2012.72,"v":2.32},{"t":2012.77,"v":2.51},{"t":2012.82,"v":2.39},{"t":2012.86,"v":2.72},{"t":2012.91,"v":2.63},{"t":2012.95,"v":2.91},{"t":2012.98,"v":3.25}],
    "tm": [{"t":2004.62,"v":6.12},{"t":2004.66,"v":7.64},{"t":2004.72,"v":7.44},{"t":2004.86,"v":6.74},{"t":2004.90,"v":6.96},{"t":2004.97,"v":8.76},{"t":2005.02,"v":8.76},{"t":2005.07,"v":9.48},{"t":2005.11,"v":9.2},{"t":2005.14,"v":9.48},{"t":2005.18,"v":9.04},{"t":2005.22,"v":8.42},{"t":2005.25,"v":8.42},{"t":2005.28,"v":9.0},{"t":2005.31,"v":8.76},{"t":2005.35,"v":8.08},{"t":2005.40,"v":7.72},{"t":2005.44,"v":7.78},{"t":2005.47,"v":7.24},{"t":2005.52,"v":6.32},{"t":2005.56,"v":6.64},{"t":2005.59,"v":6.96},{"t":2005.71,"v":6.6},{"t":2005.98,"v":7.86},{"t":2006.02,"v":8.62},{"t":2006.05,"v":9.64},{"t":2006.09,"v":9.28},{"t":2006.12,"v":9.32},{"t":2006.16,"v":8.16},{"t":2006.20,"v":8.24},{"t":2006.25,"v":8.32},{"t":2006.29,"v":8.5},{"t":2006.32,"v":8.68},{"t":2006.36,"v":7.76},{"t":2006.39,"v":8.32},{"t":2006.43,"v":8.4},{"t":2006.46,"v":8.16},{"t":2006.50,"v":7.88},{"t":2006.55,"v":7.76},{"t":2006.60,"v":7.28},{"t":2006.63,"v":7.52},{"t":2006.67,"v":7.6},{"t":2006.73,"v":7.5},{"t":2006.77,"v":8.0},{"t":2006.80,"v":7.84},{"t":2006.84,"v":8.16},{"t":2006.88,"v":7.48},{"t":2006.92,"v":8.52},{"t":2006.96,"v":8.72},{"t":2006.99,"v":8.92},{"t":2007.03,"v":8.84},{"t":2007.07,"v":9.04},{"t":2007.11,"v":8.8},{"t":2007.14,"v":8.68},{"t":2007.18,"v":8.6},{"t":2007.22,"v":8.52},{"t":2007.26,"v":8.16},{"t":2007.30,"v":8.12},{"t":2007.33,"v":8.08},{"t":2007.37,"v":7.96},{"t":2007.40,"v":6.96},{"t":2007.43,"v":7.84},{"t":2007.47,"v":7.76},{"t":2007.50,"v":7.68},{"t":2007.54,"v":7.6},{"t":2007.58,"v":7.52},{"t":2007.62,"v":7.68},{"t":2007.65,"v":7.44},{"t":2007.69,"v":7.08},{"t":2007.73,"v":7.52},{"t":2007.77,"v":7.6},{"t":2007.81,"v":7.92},{"t":2007.84,"v":8.24},{"t":2007.88,"v":8.48},{"t":2007.92,"v":8.16},{"t":2007.96,"v":8.08},{"t":2007.99,"v":7.8},{"t":2008.03,"v":8.8},{"t":2008.07,"v":8.48},{"t":2008.11,"v":8.08},{"t":2008.15,"v":8.92},{"t":2008.18,"v":9.0},{"t":2008.22,"v":9.32},{"t":2008.28,"v":9.36},{"t":2008.33,"v":7.96},{"t":2008.37,"v":8.4},{"t":2008.42,"v":8.08},{"t":2008.45,"v":7.96},{"t":2008.49,"v":8.16},{"t":2008.52,"v":8.36},{"t":2008.56,"v":8.08},{"t":2008.61,"v":8.24},{"t":2008.66,"v":8.32},{"t":2008.70,"v":7.64},{"t":2008.73,"v":8.08},{"t":2008.77,"v":8.04},{"t":2008.81,"v":7.84},{"t":2008.84,"v":7.96},{"t":2008.89,"v":8.8},{"t":2008.94,"v":9.16},{"t":2008.98,"v":9.2},{"t":2009.02,"v":8.96},{"t":2009.05,"v":9.52},{"t":2009.09,"v":9.12},{"t":2009.13,"v":9.04},{"t":2009.17,"v":8.88},{"t":2009.20,"v":9.2},{"t":2009.24,"v":8.96},{"t":2009.28,"v":9.36},{"t":2009.32,"v":9.04},{"t":2009.35,"v":8.8},{"t":2009.39,"v":8.6},{"t":2009.43,"v":8.32},{"t":2009.47,"v":8.24},{"t":2009.51,"v":8.4},{"t":2009.54,"v":8.16},{"t":2009.58,"v":8.04},{"t":2009.62,"v":8.32},{"t":2009.66,"v":7.92},{"t":2009.69,"v":8.36},{"t":2009.73,"v":8.16},{"t":2009.77,"v":7.92},{"t":2009.81,"v":7.84},{"t":2009.85,"v":8.0},{"t":2009.88,"v":7.8},{"t":2009.92,"v":7.96},{"t":2009.96,"v":9.08},{"t":2010.00,"v":8.24},{"t":2010.03,"v":8.44},{"t":2010.07,"v":8.56},{"t":2010.11,"v":8.72},{"t":2010.15,"v":7.48},{"t":2010.19,"v":8.16},{"t":2010.22,"v":8.8},{"t":2010.26,"v":9.32},{"t":2010.30,"v":9.28},{"t":2010.36,"v":9.24},{"t":2010.40,"v":8.0},{"t":2010.45,"v":8.16},{"t":2010.50,"v":8.32},{"t":2010.54,"v":7.6},{"t":2010.59,"v":8.4},{"t":2010.64,"v":7.4},{"t":2010.69,"v":7.92},{"t":2010.73,"v":8.04},{"t":2010.78,"v":7.8},{"t":2010.83,"v":7.68},{"t":2010.87,"v":8.28},{"t":2010.92,"v":7.8},{"t":2010.97,"v":8.08},{"t":2011.01,"v":8.56},{"t":2011.06,"v":7.68},{"t":2011.11,"v":8.8},{"t":2011.16,"v":9.08},{"t":2011.20,"v":8.8},{"t":2011.25,"v":9.28},{"t":2011.30,"v":8.52},{"t":2011.35,"v":8.48},{"t":2011.39,"v":8.12},{"t":2011.44,"v":8.4},{"t":2011.49,"v":8.08},{"t":2011.54,"v":7.84},{"t":2011.58,"v":7.56},{"t":2011.63,"v":8.12},{"t":2011.68,"v":7.68},{"t":2011.72,"v":8.04},{"t":2011.77,"v":7.84},{"t":2011.82,"v":8.04},{"t":2011.87,"v":8.76},{"t":2011.91,"v":7.88},{"t":2011.96,"v":7.6},{"t":2012.01,"v":7.84},{"t":2012.05,"v":8.64},{"t":2012.10,"v":8.32},{"t":2012.15,"v":8.44},{"t":2012.20,"v":8.96},{"t":2012.24,"v":8.76},{"t":2012.29,"v":8.56},{"t":2012.34,"v":9.76},{"t":2012.39,"v":8.16},{"t":2012.43,"v":8.0},{"t":2012.48,"v":7.6},{"t":2012.53,"v":7.68},{"t":2012.57,"v":6.96},{"t":2012.62,"v":7.44},{"t":2012.67,"v":7.6},{"t":2012.72,"v":7.52},{"t":2012.76,"v":7.84},{"t":2012.81,"v":7.4},{"t":2012.86,"v":7.92},{"t":2012.90,"v":7.88},{"t":2012.95,"v":7.88}],
    "pe": [{"t":2004.64,"v":22.83},{"t":2004.69,"v":24.41},{"t":2004.73,"v":24.91},{"t":2004.76,"v":25.02},{"t":2004.80,"v":25.83},{"t":2004.84,"v":26.44},{"t":2004.88,"v":25.62},{"t":2004.91,"v":26.54},{"t":2004.95,"v":26.64},{"t":2004.99,"v":29.68},{"t":2005.03,"v":27.75},{"t":2005.06,"v":27.55},{"t":2005.09,"v":28.46},{"t":2005.13,"v":28.97},{"t":2005.16,"v":30.39},{"t":2005.19,"v":29.99},{"t":2005.22,"v":28.77},{"t":2005.24,"v":27.86},{"t":2005.27,"v":27.45},{"t":2005.31,"v":26.94},{"t":2005.35,"v":26.84},{"t":2005.39,"v":24.31},{"t":2005.41,"v":24.61},{"t":2005.44,"v":25.42},{"t":2005.47,"v":23.9},{"t":2005.50,"v":23.19},{"t":2005.53,"v":23.6},{"t":2005.57,"v":22.38},{"t":2005.63,"v":22.99},{"t":2005.68,"v":25.32},{"t":2005.72,"v":26.13},{"t":2005.76,"v":25.02},{"t":2005.80,"v":23.6},{"t":2005.84,"v":24.2},{"t":2005.88,"v":25.52},{"t":2005.91,"v":24.81},{"t":2005.95,"v":26.03},{"t":2005.99,"v":27.04},{"t":2006.03,"v":26.64},{"t":2006.05,"v":28.26},{"t":2006.08,"v":27.86},{"t":2006.12,"v":27.65},{"t":2006.16,"v":27.25},{"t":2006.20,"v":25.62},{"t":2006.23,"v":25.42},{"t":2006.27,"v":26.23},{"t":2006.31,"v":26.03},{"t":2006.35,"v":24.1},{"t":2006.38,"v":24.61},{"t":2006.42,"v":23.19},{"t":2006.46,"v":24.41},{"t":2006.50,"v":22.78},{"t":2006.54,"v":23.8},{"t":2006.57,"v":25.42},{"t":2006.61,"v":23.6},{"t":2006.65,"v":22.68},{"t":2006.69,"v":23.8},{"t":2006.72,"v":23.6},{"t":2006.76,"v":24.1},{"t":2006.80,"v":23.19},{"t":2006.84,"v":25.02},{"t":2006.87,"v":24.51},{"t":2006.91,"v":23.8},{"t":2006.95,"v":25.32},{"t":2006.99,"v":27.86},{"t":2007.03,"v":28.06},{"t":2007.06,"v":28.26},{"t":2007.10,"v":26.54},{"t":2007.14,"v":26.84},{"t":2007.18,"v":25.73},{"t":2007.21,"v":26.03},{"t":2007.25,"v":25.22},{"t":2007.29,"v":24.81},{"t":2007.33,"v":24.41},{"t":2007.36,"v":25.42},{"t":2007.40,"v":24.81},{"t":2007.44,"v":24.2},{"t":2007.48,"v":26.94},{"t":2007.52,"v":24.81},{"t":2007.55,"v":23.7},{"t":2007.57,"v":23.19},{"t":2007.61,"v":24.61},{"t":2007.65,"v":25.22},{"t":2007.69,"v":25.83},{"t":2007.72,"v":25.02},{"t":2007.76,"v":25.62},{"t":2007.80,"v":24.81},{"t":2007.84,"v":25.42},{"t":2007.87,"v":26.03},{"t":2007.91,"v":26.13},{"t":2007.95,"v":25.42},{"t":2007.99,"v":27.86},{"t":2008.02,"v":27.35},{"t":2008.06,"v":28.26},{"t":2008.10,"v":30.49},{"t":2008.14,"v":28.26},{"t":2008.18,"v":28.46},{"t":2008.21,"v":27.75},{"t":2008.25,"v":28.87},{"t":2008.29,"v":27.65},{"t":2008.33,"v":26.64},{"t":2008.36,"v":25.62},{"t":2008.40,"v":26.64},{"t":2008.44,"v":24.71},{"t":2008.48,"v":25.22},{"t":2008.51,"v":25.73},{"t":2008.55,"v":26.94},{"t":2008.59,"v":24.81},{"t":2008.63,"v":25.42},{"t":2008.67,"v":26.23},{"t":2008.70,"v":24.51},{"t":2008.74,"v":25.83},{"t":2008.78,"v":24.2},{"t":2008.82,"v":25.83},{"t":2008.85,"v":25.42},{"t":2008.89,"v":26.03},{"t":2008.93,"v":23.6},{"t":2008.97,"v":24.41},{"t":2009.00,"v":25.62},{"t":2009.04,"v":26.44},{"t":2009.08,"v":27.86},{"t":2009.11,"v":29.28},{"t":2009.14,"v":28.57},{"t":2009.17,"v":27.25},{"t":2009.21,"v":27.65},{"t":2009.25,"v":26.64},{"t":2009.29,"v":24.81},{"t":2009.33,"v":25.73},{"t":2009.36,"v":24.41},{"t":2009.40,"v":26.23},{"t":2009.44,"v":26.64},{"t":2009.48,"v":25.42},{"t":2009.51,"v":24.71},{"t":2009.55,"v":24.2},{"t":2009.59,"v":24.0},{"t":2009.63,"v":27.35},{"t":2009.66,"v":24.41},{"t":2009.70,"v":26.64},{"t":2009.74,"v":25.93},{"t":2009.78,"v":26.44},{"t":2009.82,"v":25.42},{"t":2009.85,"v":25.93},{"t":2009.89,"v":25.22},{"t":2009.93,"v":26.84},{"t":2009.97,"v":26.44},{"t":2010.00,"v":27.25},{"t":2010.03,"v":28.87},{"t":2010.06,"v":28.46},{"t":2010.10,"v":28.97},{"t":2010.14,"v":27.86},{"t":2010.17,"v":27.25},{"t":2010.21,"v":27.55},{"t":2010.25,"v":26.44},{"t":2010.29,"v":26.23},{"t":2010.32,"v":25.73},{"t":2010.36,"v":26.03},{"t":2010.40,"v":25.22},{"t":2010.44,"v":24.0},{"t":2010.47,"v":24.61},{"t":2010.51,"v":23.9},{"t":2010.55,"v":24.81},{"t":2010.59,"v":22.38},{"t":2010.63,"v":25.42},{"t":2010.66,"v":24.2},{"t":2010.70,"v":25.02},{"t":2010.74,"v":24.41},{"t":2010.78,"v":25.83},{"t":2010.81,"v":25.22},{"t":2010.85,"v":24.2},{"t":2010.89,"v":26.44},{"t":2010.93,"v":25.02},{"t":2010.97,"v":26.03},{"t":2011.00,"v":26.64},{"t":2011.04,"v":27.25},{"t":2011.08,"v":28.26},{"t":2011.12,"v":28.06},{"t":2011.16,"v":27.25},{"t":2011.21,"v":27.65},{"t":2011.26,"v":26.84},{"t":2011.30,"v":27.55},{"t":2011.35,"v":27.15},{"t":2011.40,"v":26.84},{"t":2011.45,"v":26.64},{"t":2011.49,"v":27.35},{"t":2011.54,"v":26.44},{"t":2011.59,"v":25.83},{"t":2011.63,"v":25.02},{"t":2011.68,"v":23.39},{"t":2011.73,"v":25.42},{"t":2011.78,"v":25.02},{"t":2011.82,"v":26.64},{"t":2011.87,"v":26.03},{"t":2011.92,"v":26.94},{"t":2011.96,"v":27.65},{"t":2012.01,"v":27.35},{"t":2012.06,"v":28.06},{"t":2012.11,"v":28.67},{"t":2012.15,"v":28.97},{"t":2012.20,"v":28.26},{"t":2012.25,"v":27.75},{"t":2012.29,"v":26.84},{"t":2012.34,"v":26.03},{"t":2012.39,"v":26.64},{"t":2012.44,"v":27.45},{"t":2012.48,"v":27.96},{"t":2012.53,"v":26.23},{"t":2012.58,"v":26.64},{"t":2012.62,"v":25.73},{"t":2012.67,"v":25.42},{"t":2012.72,"v":26.23},{"t":2012.77,"v":25.22},{"t":2012.81,"v":24.51},{"t":2012.86,"v":25.73},{"t":2012.89,"v":22.58},{"t":2012.91,"v":27.25},{"t":2012.93,"v":25.83},{"t":2012.95,"v":29.07},{"t":2012.97,"v":24.91},{"t":2012.98,"v":26.74}]
  },
  "hconcat": [
    {
      "spacing": 32,
      "vconcat": [
        {
          "width": 320, "height": 165,
          "title": {"text": "Cyanobacteria", "fontStyle": "normal", "fontSize": 27, "offset": 12, "dx": -18},
          "data": {"name": "cm"},
          "layer": [
            {
              "mark": {"type": "circle", "size": 42, "color": "black", "opacity": 1},
              "encoding": {
                "x": {"field": "t", "type": "quantitative", "scale": {"domain": [2004, 2013], "nice": false, "zero": false}, "axis": {"values": [2004, 2005, 2006, 2007, 2008, 2009, 2010, 2011, 2012, 2013], "labelExpr": "'J-' + slice(toString(datum.value), 2)"}},
                "y": {"field": "v", "type": "quantitative", "scale": {"domain": [4, 10], "nice": false, "zero": false}, "axis": {"values": [4, 5, 6, 7, 8, 9, 10], "title": "x, um", "titlePadding": 2}}
              }
            },
            {
              "mark": {"type": "circle", "opacity": 0},
              "encoding": {
                "x": {"field": "t", "type": "quantitative", "scale": {"domain": [2004, 2013], "nice": false, "zero": false}, "axis": {"orient": "top", "labels": false, "ticks": false, "domain": false, "grid": false, "title": "Chroococcus minutus", "titleX": 109, "titleAlign": "center", "titleFontSize": 25.5, "titleFontStyle": "italic", "titleFontWeight": "normal", "titlePadding": 7}}
              }
            }
          ],
          "resolve": {"axis": {"x": "independent"}}
        },
        {
          "width": 320, "height": 165,
          "title": {"text": "Aphanizomenon ovalisporum", "dx": -1},
          "data": {"name": "ao"},
          "mark": {"type": "circle", "size": 42, "color": "black", "opacity": 1},
          "encoding": {
            "x": {"field": "t", "type": "quantitative", "scale": {"domain": [2004, 2013], "nice": false, "zero": false}, "axis": {"values": [2004, 2005, 2006, 2007, 2008, 2009, 2010, 2011, 2012, 2013], "labelExpr": "'J-' + slice(toString(datum.value), 2)"}},
            "y": {"field": "v", "type": "quantitative", "scale": {"domain": [2, 6], "nice": false, "zero": false}, "axis": {"values": [2, 3, 4, 5, 6], "title": "x, um", "titlePadding": 11}}
          }
        },
        {
          "width": 320, "height": 165,
          "title": {"text": "Cylindrospermopsis raciborskii", "dx": -16},
          "data": {"name": "cr"},
          "mark": {"type": "circle", "size": 42, "color": "black", "opacity": 1},
          "encoding": {
            "x": {"field": "t", "type": "quantitative", "scale": {"domain": [2004, 2013], "nice": false, "zero": false}, "axis": {"values": [2004, 2005, 2006, 2007, 2008, 2009, 2010, 2011, 2012, 2013], "labelExpr": "'J-' + slice(toString(datum.value), 2)"}},
            "y": {"field": "v", "type": "quantitative", "scale": {"domain": [1, 4], "nice": false, "zero": false}, "axis": {"values": [1, 2, 3, 4], "title": "x, um", "titlePadding": 13}}
          }
        }
      ]
    },
    {
      "spacing": 32,
      "vconcat": [
        {
          "width": 320, "height": 165,
          "title": {"text": "Chlorophytes", "fontStyle": "normal", "fontSize": 27, "offset": 12, "dx": -42},
          "data": {"name": "cc"},
          "layer": [
            {
              "mark": {"type": "circle", "size": 42, "color": "black", "opacity": 1},
              "encoding": {
                "x": {"field": "t", "type": "quantitative", "scale": {"domain": [2004, 2013], "nice": false, "zero": false}, "axis": {"values": [2004, 2005, 2006, 2007, 2008, 2009, 2010, 2011, 2012, 2013], "labelExpr": "'J-' + slice(toString(datum.value), 2)"}},
                "y": {"field": "v", "type": "quantitative", "scale": {"domain": [5, 12], "nice": false, "zero": false}, "axis": {"values": [5, 6, 7, 8, 9, 10, 11, 12], "title": "x, um", "titlePadding": 18}}
              }
            },
            {
              "mark": {"type": "circle", "opacity": 0},
              "encoding": {
                "x": {"field": "t", "type": "quantitative", "scale": {"domain": [2004, 2013], "nice": false, "zero": false}, "axis": {"orient": "top", "labels": false, "ticks": false, "domain": false, "grid": false, "title": "Chodatella citriformis", "titleX": 110, "titleAlign": "center", "titleFontSize": 25.5, "titleFontStyle": "italic", "titleFontWeight": "normal", "titlePadding": 7}}
              }
            }
          ],
          "resolve": {"axis": {"x": "independent"}}
        },
        {
          "width": 320, "height": 165,
          "title": {"text": "Elakatothrix gelatinosa", "dx": -37},
          "data": {"name": "eg"},
          "mark": {"type": "circle", "size": 42, "color": "black", "opacity": 1},
          "encoding": {
            "x": {"field": "t", "type": "quantitative", "scale": {"domain": [2004, 2013], "nice": false, "zero": false}, "axis": {"values": [2004, 2005, 2006, 2007, 2008, 2009, 2010, 2011, 2012, 2013], "labelExpr": "'J-' + slice(toString(datum.value), 2)"}},
            "y": {"field": "v", "type": "quantitative", "scale": {"domain": [1, 5], "nice": false, "zero": false}, "axis": {"values": [1, 2, 3, 4, 5], "title": "x, um", "titlePadding": 23}}
          }
        },
        {
          "width": 320, "height": 165,
          "title": {"text": "Tetraedron minimum", "dx": -36},
          "data": {"name": "tm"},
          "mark": {"type": "circle", "size": 42, "color": "black", "opacity": 1},
          "encoding": {
            "x": {"field": "t", "type": "quantitative", "scale": {"domain": [2004, 2013], "nice": false, "zero": false}, "axis": {"values": [2004, 2005, 2006, 2007, 2008, 2009, 2010, 2011, 2012, 2013], "labelExpr": "'J-' + slice(toString(datum.value), 2)"}},
            "y": {"field": "v", "type": "quantitative", "scale": {"domain": [6, 10], "nice": false, "zero": false}, "axis": {"values": [6, 7, 8, 9, 10], "title": "x, um", "titlePadding": 25}}
          }
        }
      ]
    },
    {
      "spacing": 32,
      "vconcat": [
        {
          "width": 320, "height": 165,
          "title": {"text": "Dinoflagellates", "fontStyle": "normal", "fontSize": 27, "offset": 12, "dx": -35},
          "data": {"name": "pg"},
          "layer": [
            {
              "mark": {"type": "circle", "size": 42, "color": "black", "opacity": 1},
              "encoding": {
                "x": {"field": "t", "type": "quantitative", "scale": {"domain": [2004, 2013], "nice": false, "zero": false}, "axis": {"values": [2004, 2005, 2006, 2007, 2008, 2009, 2010, 2011, 2012, 2013], "labelExpr": "'J-' + slice(toString(datum.value), 2)"}},
                "y": {"field": "v", "type": "quantitative", "scale": {"domain": [42, 58], "nice": false, "zero": false}, "axis": {"values": [42, 44, 46, 48, 50, 52, 54, 56, 58], "title": "x, um", "titlePadding": 26}}
              }
            },
            {
              "mark": {"type": "circle", "opacity": 0},
              "encoding": {
                "x": {"field": "t", "type": "quantitative", "scale": {"domain": [2004, 2013], "nice": false, "zero": false}, "axis": {"orient": "top", "labels": false, "ticks": false, "domain": false, "grid": false, "title": "Peridinium gatunense", "titleX": 122, "titleAlign": "center", "titleFontSize": 25.5, "titleFontStyle": "italic", "titleFontWeight": "normal", "titlePadding": 7}}
              }
            }
          ],
          "resolve": {"axis": {"x": "independent"}}
        },
        {
          "width": 320, "height": 165,
          "title": {"text": "Peridiniopsis cunningtonii", "dx": -12},
          "data": {"name": "pc"},
          "mark": {"type": "circle", "size": 42, "color": "black", "opacity": 1},
          "encoding": {
            "x": {"field": "t", "type": "quantitative", "scale": {"domain": [2004, 2013], "nice": false, "zero": false}, "axis": {"values": [2004, 2005, 2006, 2007, 2008, 2009, 2010, 2011, 2012, 2013], "labelExpr": "'J-' + slice(toString(datum.value), 2)"}},
            "y": {"field": "v", "type": "quantitative", "scale": {"domain": [22, 30], "nice": false, "zero": false}, "axis": {"values": [22, 24, 26, 28, 30], "title": "x,  um", "titlePadding": 25}}
          }
        },
        {
          "width": 320, "height": 165,
          "title": {"text": "Peridiniopsis elpatiewskyi", "dx": -26},
          "data": {"name": "pe"},
          "mark": {"type": "circle", "size": 42, "color": "black", "opacity": 1},
          "encoding": {
            "x": {"field": "t", "type": "quantitative", "scale": {"domain": [2004, 2013], "nice": false, "zero": false}, "axis": {"values": [2004, 2005, 2006, 2007, 2008, 2009, 2010, 2011, 2012, 2013], "labelExpr": "'J-' + slice(toString(datum.value), 2)"}},
            "y": {"field": "v", "type": "quantitative", "scale": {"domain": [21, 31], "nice": false, "zero": false}, "axis": {"values": [21, 23, 25, 27, 29, 31], "title": "x, um", "titlePadding": 26}}
          }
        }
      ]
    }
  ],
  "spacing": 9,
  "config": {
    "font": "Lato",
    "view": {"stroke": "#a0a0a0", "strokeWidth": 1.5},
    "axis": {"labelFont": "Lato", "labelColor": "black", "domainColor": "#a0a0a0", "domainWidth": 1.5, "tickColor": "#a0a0a0", "tickSize": 4, "labelPadding": 2, "titleFont": "Lato", "titleColor": "black"},
    "axisX": {"grid": true, "gridColor": "#c8c8c8", "gridWidth": 1.2, "title": null, "labelFontSize": 14, "labelFlush": false, "labelOverlap": false},
    "axisY": {"grid": false, "labelFontSize": 15, "titleFontSize": 15, "titleFontWeight": "bold", "minExtent": 24, "maxExtent": 24},
    "title": {"font": "Lato", "fontSize": 25.5, "fontStyle": "italic", "fontWeight": "normal", "anchor": "middle", "frame": "group", "offset": 5, "color": "black"}
  }
}
